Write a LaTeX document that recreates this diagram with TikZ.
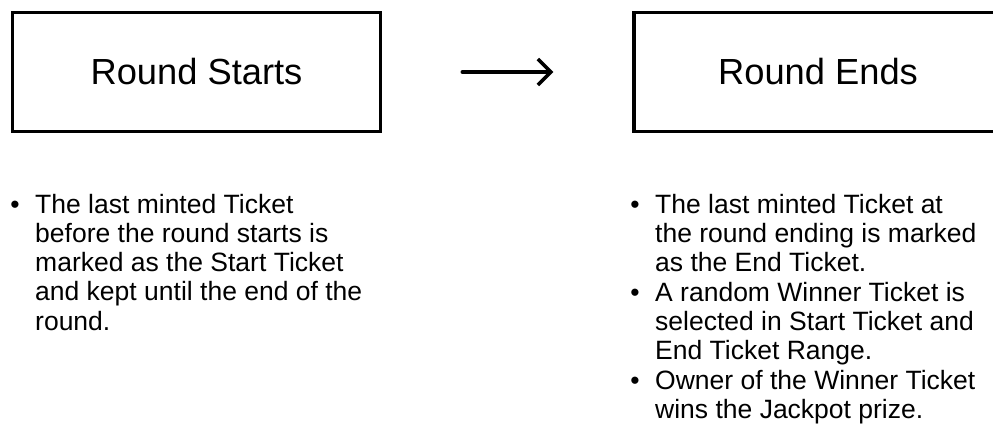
\documentclass[tikz,border=0pt]{standalone}
\usepackage{fontspec}
\setmainfont{Liberation Sans}
\usetikzlibrary{arrows.meta}
\begin{document}
\begin{tikzpicture}[x=1pt,y=-1pt,
  stagebox/.style={draw, line width=3.5pt, minimum width=368pt, minimum height=119pt,
    inner sep=0pt, font=\fontsize{36.3}{40}\selectfont},
  flow/.style={line width=3.5pt, line cap=round,
    -{Straight Barb[length=13pt,width=26pt,line width=3.5pt]}},
  bul/.style={anchor=base, inner sep=0pt, font=\fontsize{26.5}{29.3}\selectfont},
  % multi-line nodes are placed by the baseline of their last line
  itemtext/.style={anchor=base west, inner sep=0pt, align=left,
    font=\fontsize{26.5}{29.3}\selectfont}]
\clip (0,0) rectangle (993,425);
\fill[white] (0,0) rectangle (993,425);

% the two stages of a round
\node[stagebox] (start) at (196.5,72) {Round Starts};
\node[stagebox] (end) at (818,72) {Round Ends};
\draw[flow, shorten <=80pt, shorten >=79pt] (start.east) -- (end.west);

% notes for the start of the round
\node[bul] (b1) at (15,213) {•};
\node[itemtext] (t1) at (35,330.2) {The last minted Ticket\\before the round starts is\\marked as the Start Ticket\\and kept until the end of the\\round.};

% notes for the end of the round
\node[bul] (b2) at (635,213) {•};
\node[itemtext] (t2) at (655,271.6) {The last minted Ticket at\\the round ending is marked\\as the End Ticket.};
\node[bul] (b3) at (635,301) {•};
\node[itemtext] (t3) at (655,359.6) {A random Winner Ticket is\\selected in Start Ticket and\\End Ticket Range.};
\node[bul] (b4) at (635,389) {•};
\node[itemtext] (t4) at (655,418.3) {Owner of the Winner Ticket\\wins the Jackpot prize.};
\end{tikzpicture}
\end{document}
